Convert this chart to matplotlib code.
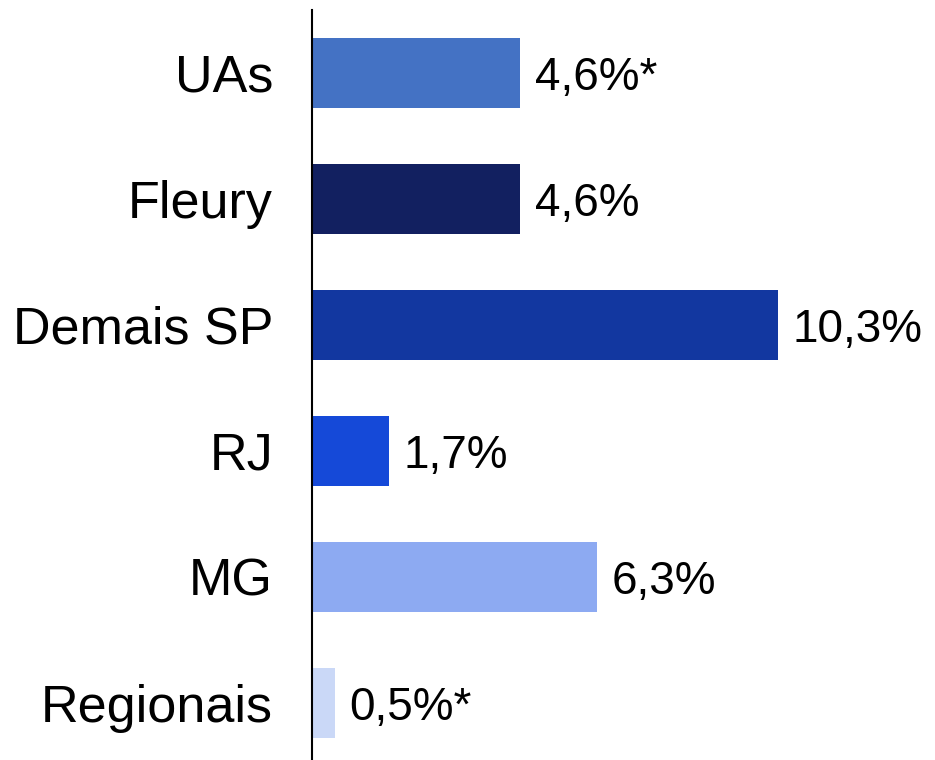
import matplotlib
matplotlib.use("Agg")
import matplotlib.pyplot as plt

categories = ["UAs", "Fleury", "Demais SP", "RJ", "MG", "Regionais"]
values = [4.6, 4.6, 10.3, 1.7, 6.3, 0.5]
value_labels = ["4,6%*", "4,6%", "10,3%", "1,7%", "6,3%", "0,5%*"]
colors = ["#4472C4", "#122060", "#1237A0", "#1549D8", "#8DAAF2", "#CAD8F7"]

plt.rcParams["font.family"] = ["Liberation Sans", "DejaVu Sans"]

fig = plt.figure(figsize=(9.35, 7.6), dpi=100)
ax = fig.add_axes([312 / 935, -6 / 760, 1 - 312 / 935, 756 / 760])

ypos = list(range(len(categories)))
bars = ax.barh(ypos, values, height=0.556, color=colors)
ax.set_ylim(len(categories) - 0.5, -0.5)
ax.set_xlim(0, (935 - 312) / 45.24)

for bar, lab in zip(bars, value_labels):
    ax.text(bar.get_width() + 0.33, bar.get_y() + bar.get_height() / 2, lab,
            va="center_baseline", ha="left", fontsize=33)

ax.set_yticks(ypos)
ax.set_yticklabels(categories, fontsize=37.5, va="center_baseline")
ax.tick_params(axis="y", length=0, pad=28)
ax.set_xticks([])
for s in ["top", "right", "bottom"]:
    ax.spines[s].set_visible(False)
ax.spines["left"].set_linewidth(1.5)

fig.savefig("out.png", dpi=100)
